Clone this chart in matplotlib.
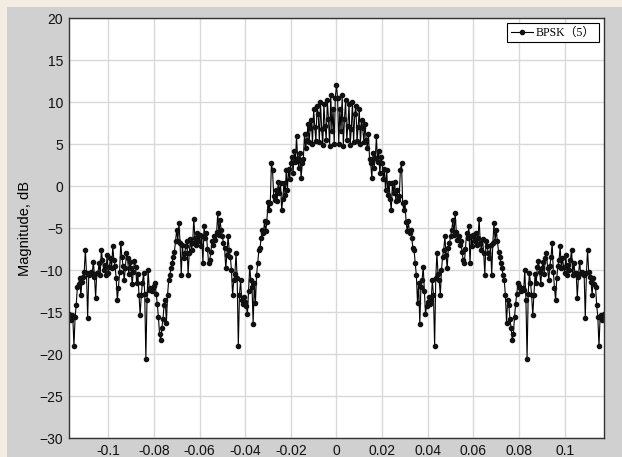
import matplotlib
matplotlib.use("Agg")
import matplotlib.pyplot as plt
from matplotlib.patches import Rectangle
import numpy as np

# spectrum is symmetric about 0, values read for f >= 0 (step 0.0005)
freq_step = 0.0005
half_db = [
    # 0.000 - 0.0095
    12.0, 10.5, 5.0, 9.2, 6.5, 10.8, 4.8, 8.0, 10.2, 5.5,
    7.2, 9.8, 4.9, 6.8, 10.0, 5.2, 8.6, 9.5, 5.3, 7.0,
    # 0.010 - 0.0195
    9.2, 5.0, 7.8, 6.9, 5.2, 7.4, 5.5, 4.5, 6.2, 3.2,
    2.7, 0.9, 3.9, 2.2, 3.3, 5.9, 2.8, 4.2, 1.5, 3.5,
    # 0.020 - 0.0295
    2.7, 0.8, 2.0, -0.5, 1.9, -1.1, 0.4, -1.5, -2.9, 0.3,
    -0.8, 0.5, -1.8, -0.5, -1.7, -1.2, 1.9, 2.7, -2.0, -2.9,
    # 0.030 - 0.0395
    -1.9, -4.25, -5.4, -4.2, -5.6, -5.2, -6.2, -7.4, -7.6, -9.2,
    -10.6, -13.9, -11.6, -16.4, -12.0, -11.2, -9.6, -12.5, -15.2, -14.3,
    # 0.040 - 0.0495
    -13.8, -13.2, -14.0, -13.6, -11.2, -13.0, -19.1, -11.0, -8.0, -10.5,
    -11.2, -13.0, -10.0, -8.4, -7.6, -6.0, -8.2, -9.8, -7.4, -6.8,
    # 0.050 - 0.0595
    -6.0, -5.2, -4.1, -5.8, -3.2, -5.5, -6.4, -5.9, -7.0, -6.5,
    -7.8, -8.8, -9.2, -7.5, -5.6, -6.2, -4.8, -9.2, -6.0, -7.2,
    # 0.060 - 0.0695
    -5.8, -6.6, -5.6, -7.0, -6.2, -3.9, -6.8, -7.6, -6.3, -8.0,
    -10.6, -6.5, -7.2, -8.0, -8.6, -7.0, -10.6, -6.8, -4.4, -6.5,
    # 0.070 - 0.0795
    -5.2, -6.6, -7.8, -8.4, -9.2, -9.8, -10.6, -11.2, -13.0, -16.3,
    -13.6, -14.2, -15.8, -16.9, -18.3, -17.6, -15.6, -14.0, -12.8, -11.6,
    # 0.080 - 0.0895
    -11.9, -12.2, -12.5, -12.1, -12.4, -10.0, -13.6, -20.6, -12.8, -10.4,
    -11.5, -13.0, -15.4, -13.0, -10.5, -11.6, -9.6, -8.9, -10.2, -11.7,
    # 0.090 - 0.0995
    -9.8, -9.0, -10.5, -8.6, -8.0, -9.8, -11.2, -9.5, -8.4, -6.8,
    -10.2, -12.1, -13.6, -11.0, -9.5, -8.8, -7.2, -9.8, -8.6, -9.6,
    # 0.100 - 0.1095
    -10.4, -8.2, -10.6, -9.4, -10.0, -8.8, -7.6, -10.6, -9.2, -10.4,
    -10.3, -13.3, -10.8, -9.0, -10.4, -10.2, -10.5, -10.6, -15.7, -10.4,
    # 0.110 - 0.1175
    -7.6, -10.2, -10.8, -11.4, -13.0, -11.0, -11.7, -12.0, -14.2, -15.6,
    -19.1, -15.6, -15.4, -16.0, -15.2, -15.8,
]

xticks = [-0.1, -0.08, -0.06, -0.04, -0.02, 0, 0.02, 0.04, 0.06, 0.08, 0.1]
xtick_labels = ['-0.1', '-0.08', '-0.06', '-0.04', '-0.02', '0', '0.02', '0.04', '0.06', '0.08', '0.1']
yticks = [-30, -25, -20, -15, -10, -5, 0, 5, 10, 15, 20]

half = np.array(half_db)
mag = np.concatenate([half[:0:-1], half])
n = len(half) - 1
freq = freq_step * np.arange(-n, n + 1)

plt.rcParams['font.family'] = ['Liberation Sans', 'DejaVu Sans']

fig = plt.figure(figsize=(6.22, 4.57), dpi=100, facecolor='#f3ece3')
# grey window panel behind the plot
fig.patches.append(Rectangle((7 / 622, 0), 1, 1 - 7 / 457, transform=fig.transFigure,
                             facecolor='#d0d0d0', edgecolor='none', zorder=-10))
ax = fig.add_axes([68.7 / 622, 1 - 438 / 457, (604 - 68.7) / 622, (438 - 18) / 457])
ax.set_facecolor('white')

ax.plot(freq, mag, color='black', lw=0.8, marker='o', ms=3.0,
        markerfacecolor='#111111', markeredgecolor='#111111', label='BPSK（5）')

ax.set_xlim(-0.1173, 0.1172)
ax.set_ylim(-30, 20)
ax.set_xticks(xticks)
ax.set_xticklabels(xtick_labels)
ax.set_yticks(yticks)
ax.grid(True, color='#d9d9d9', lw=1)
ax.set_axisbelow(True)
ax.tick_params(length=0, labelsize=10, pad=4, colors='#111111')
for s in ax.spines.values():
    s.set_color('#333333')
    s.set_linewidth(1)

ax.set_ylabel('Magnitude, dB', fontsize=10.5, labelpad=5)

leg = ax.legend(loc='upper right',
                prop={'family': ['Liberation Serif', 'Noto Sans CJK SC'], 'size': 8.5},
                fancybox=False, framealpha=1, edgecolor='black',
                handlelength=1.9, handletextpad=0.25, borderpad=0.3,
                borderaxespad=0.45)
leg.get_frame().set_linewidth(0.8)

fig.savefig('out.png', dpi=100, facecolor=fig.get_facecolor())
